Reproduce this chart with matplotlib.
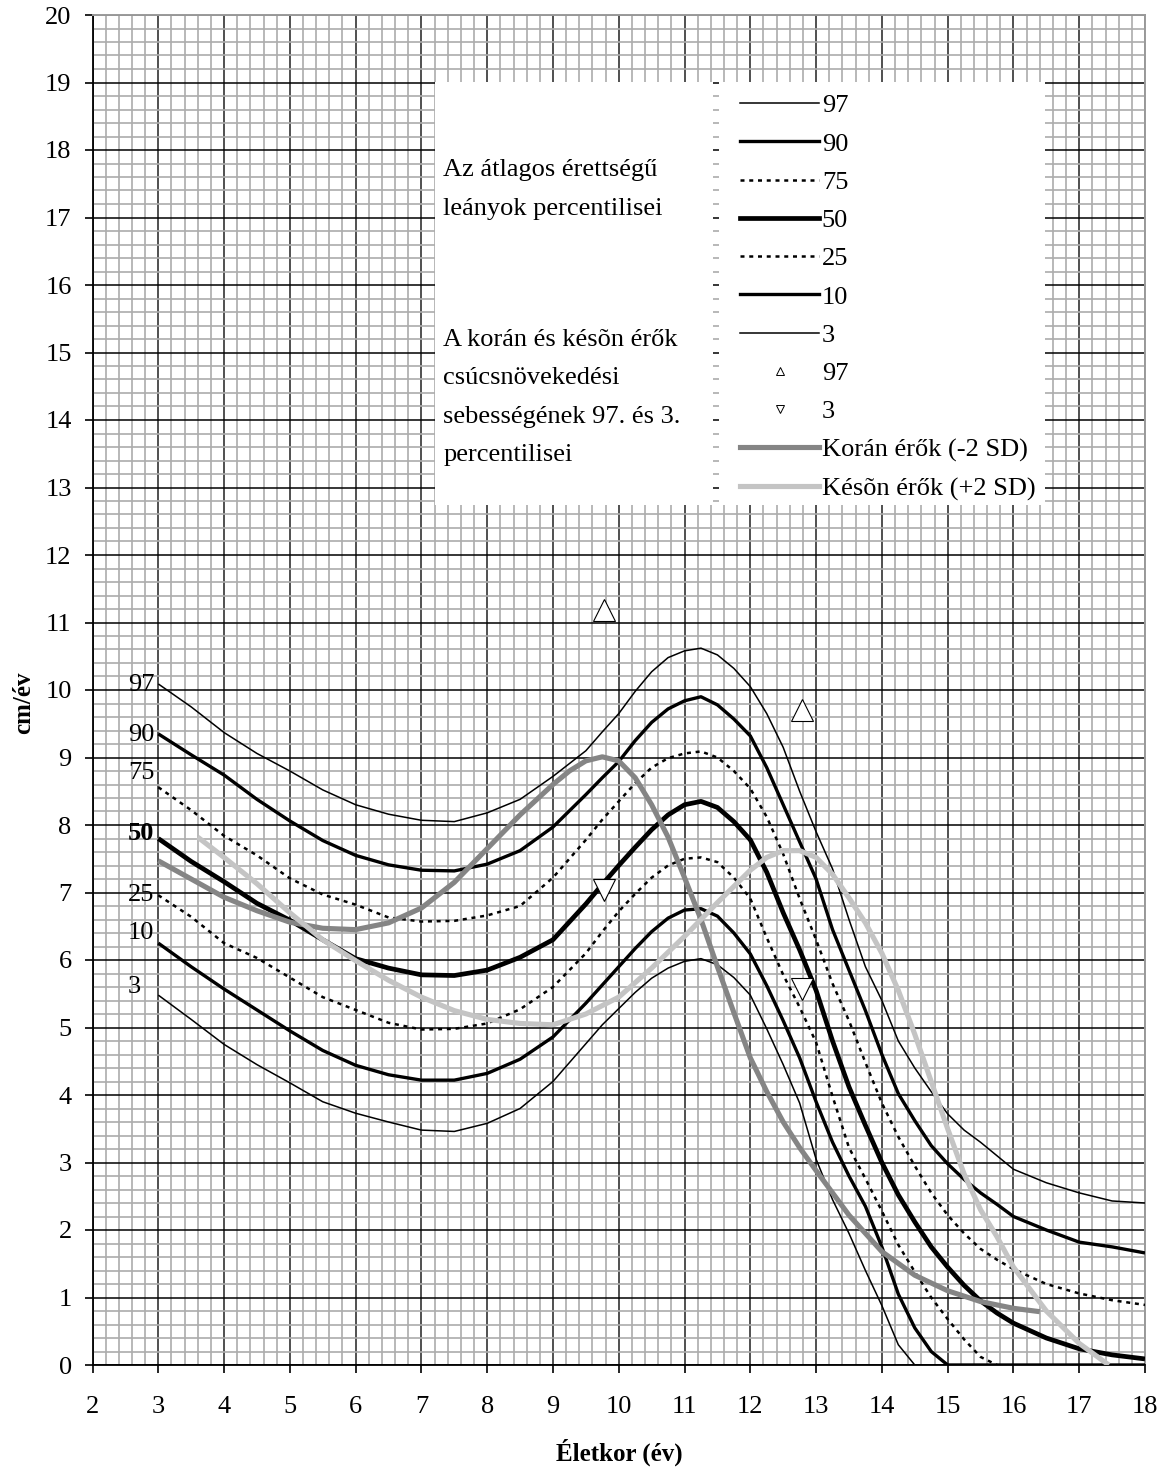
import matplotlib
matplotlib.use("Agg")
import matplotlib.pyplot as plt
from matplotlib.lines import Line2D
from matplotlib.patches import Rectangle
import numpy as np

plt.rcParams['font.family'] = ['Liberation Serif', 'DejaVu Serif']

# ---------------- data ----------------
AGES = [3, 3.5, 4, 4.5, 5, 5.5, 6, 6.5, 7, 7.5, 8, 8.5, 9, 9.5, 9.75, 10, 10.25, 10.5,
        10.75, 11, 11.25, 11.5, 11.75, 12, 12.25, 12.5, 12.75, 13, 13.25, 13.5, 13.75,
        14, 14.25, 14.5, 14.75, 15, 15.25, 15.5, 15.75, 16, 16.5, 17, 17.5, 18]

P97 = [10.09, 9.75, 9.37, 9.06, 8.80, 8.52, 8.30, 8.16, 8.07, 8.05, 8.18, 8.38, 8.72, 9.10,
       9.38, 9.65, 9.98, 10.27, 10.48, 10.58, 10.62, 10.52, 10.32, 10.05, 9.65, 9.15, 8.50,
       7.90, 7.35, 6.60, 5.90, 5.40, 4.80, 4.40, 4.05, 3.72, 3.48, 3.30, 3.10, 2.90, 2.70,
       2.55, 2.43, 2.40]
P90 = [9.35, 9.04, 8.74, 8.38, 8.06, 7.77, 7.55, 7.41, 7.33, 7.32, 7.42, 7.62, 7.97, 8.45,
       8.70, 8.94, 9.25, 9.52, 9.72, 9.84, 9.90, 9.78, 9.57, 9.32, 8.85, 8.30, 7.75, 7.20,
       6.45, 5.85, 5.25, 4.60, 4.02, 3.62, 3.25, 2.98, 2.75, 2.55, 2.38, 2.20, 2.00, 1.82,
       1.75, 1.66]
P75 = [8.56, 8.22, 7.84, 7.55, 7.21, 6.97, 6.82, 6.63, 6.57, 6.58, 6.66, 6.80, 7.22, 7.78,
       8.08, 8.35, 8.62, 8.85, 8.99, 9.06, 9.09, 9.00, 8.80, 8.54, 8.12, 7.57, 6.91, 6.30,
       5.65, 5.10, 4.48, 3.88, 3.38, 2.95, 2.55, 2.22, 1.95, 1.72, 1.56, 1.42, 1.20, 1.06,
       0.96, 0.89]
P50 = [7.80, 7.46, 7.16, 6.84, 6.59, 6.30, 6.02, 5.88, 5.78, 5.77, 5.85, 6.04, 6.30, 6.83,
       7.12, 7.40, 7.67, 7.93, 8.15, 8.30, 8.35, 8.26, 8.05, 7.78, 7.30, 6.70, 6.15, 5.55,
       4.80, 4.12, 3.55, 3.00, 2.52, 2.12, 1.75, 1.45, 1.18, 0.95, 0.77, 0.62, 0.40, 0.24,
       0.15, 0.09]
P25 = [6.96, 6.64, 6.25, 6.03, 5.74, 5.45, 5.26, 5.07, 4.97, 4.98, 5.06, 5.27, 5.60, 6.10,
       6.42, 6.72, 6.98, 7.22, 7.40, 7.50, 7.52, 7.45, 7.22, 6.91, 6.33, 5.78, 5.30, 4.78,
       3.98, 3.22, 2.76, 2.28, 1.78, 1.38, 1.00, 0.68, 0.38, 0.12, 0.0, np.nan, np.nan,
       np.nan, np.nan, np.nan]
P10 = [6.25, 5.90, 5.57, 5.26, 4.95, 4.66, 4.44, 4.30, 4.22, 4.22, 4.32, 4.53, 4.86, 5.36,
       5.63, 5.90, 6.17, 6.42, 6.62, 6.74, 6.76, 6.65, 6.40, 6.09, 5.62, 5.10, 4.55, 3.90,
       3.30, 2.80, 2.35, 1.75, 1.05, 0.55, 0.20, 0.0, 0.0, 0.0, 0.0, 0.0, 0.0, 0.0, 0.0, 0.0]
P3 = [5.48, 5.12, 4.75, 4.45, 4.18, 3.90, 3.73, 3.60, 3.48, 3.46, 3.58, 3.80, 4.20, 4.76,
      5.04, 5.28, 5.52, 5.73, 5.88, 5.98, 6.02, 5.93, 5.74, 5.48, 4.98, 4.45, 3.88, 3.05,
      2.45, 1.95, 1.40, 0.88, 0.30, 0.0, 0.0, 0.0, 0.0, 0.0, 0.0, 0.0, 0.0, 0.0, 0.0, 0.0]

KORAN_AGE = [3, 3.5, 4, 4.5, 5, 5.5, 6, 6.5, 7, 7.5, 8, 8.5, 9, 9.25, 9.5, 9.75, 10, 10.25,
             10.5, 10.75, 11, 11.25, 11.5, 11.75, 12, 12.25, 12.5, 12.75, 13, 13.5, 14,
             14.5, 15, 15.5, 16, 16.4]
KORAN = [7.47, 7.20, 6.93, 6.73, 6.56, 6.47, 6.45, 6.55, 6.77, 7.15, 7.65, 8.15, 8.60, 8.80,
         8.95, 9.01, 8.95, 8.70, 8.30, 7.82, 7.22, 6.60, 5.90, 5.22, 4.55, 4.05, 3.60,
         3.22, 2.88, 2.22, 1.68, 1.33, 1.10, 0.94, 0.84, 0.79]

KESON_AGE = [3.6, 4, 4.5, 5, 5.5, 6, 6.5, 7, 7.5, 8, 8.5, 9, 9.5, 10, 10.5, 11, 11.5, 12,
             12.25, 12.5, 12.75, 13, 13.25, 13.5, 13.75, 14, 14.25, 14.5, 14.75, 15, 15.25,
             15.5, 15.75, 16, 16.5, 17, 17.45]
KESON = [7.82, 7.52, 7.13, 6.70, 6.30, 5.99, 5.70, 5.45, 5.25, 5.12, 5.06, 5.04, 5.20, 5.45,
         5.88, 6.35, 6.85, 7.33, 7.52, 7.62, 7.62, 7.52, 7.27, 6.92, 6.55, 6.10, 5.55,
         4.90, 4.20, 3.50, 2.83, 2.30, 1.90, 1.45, 0.80, 0.32, 0.0]

PEAK97_AGE = [9.78, 12.78]
PEAK97_VAL = [11.18, 9.70]
PEAK3_AGE = [9.78, 12.78]
PEAK3_VAL = [7.03, 5.57]

CURVE_LABELS = ["97", "90", "75", "50", "25", "10", "3"]
CURVE_LABEL_Y = [10.07, 9.33, 8.77, 7.87, 6.96, 6.40, 5.60]

# ---------------- figure ----------------
fig = plt.figure(figsize=(11.65, 14.68), dpi=100)
ax = fig.add_axes([92.5 / 1165, 1 - 1365 / 1468, (1145 - 92.5) / 1165, 1350 / 1468])
ax.set_xlim(2, 18)
ax.set_ylim(0, 20)
ax.set_xticks(range(2, 19))
ax.set_yticks(range(0, 21))
ax.set_xticks(np.arange(2, 18.01, 0.2), minor=True)
ax.set_yticks(np.arange(0, 20.01, 0.2), minor=True)
ax.set_axisbelow(True)
ax.grid(which='minor', color='#acacac', lw=1.2)
ax.grid(which='major', axis='x', color='#505050', lw=1.4)
ax.grid(which='major', axis='y', color='black', lw=1.1)
ax.tick_params(which='minor', length=0)
ax.tick_params(which='major', direction='out', length=6, width=1.2, labelsize=19)
ax.tick_params(axis='y', pad=9)
ax.tick_params(axis='x', pad=16)
for s in ['left', 'bottom']:
    ax.spines[s].set_color('black')
    ax.spines[s].set_linewidth(1.3)
for s in ['top', 'right']:
    ax.spines[s].set_color('#9a9a9a')
    ax.spines[s].set_linewidth(1.4)

dot = (0, (1.6, 1.9))
styles = {
    "97": dict(color='black', lw=1.1, ls='-'),
    "90": dict(color='black', lw=2.4, ls='-'),
    "75": dict(color='black', lw=1.8, ls=dot),
    "50": dict(color='black', lw=3.4, ls='-'),
    "25": dict(color='black', lw=1.8, ls=dot),
    "10": dict(color='black', lw=2.4, ls='-'),
    "3": dict(color='black', lw=1.1, ls='-'),
}
series = [P97, P90, P75, P50, P25, P10, P3]

# white boxes (legend area)
BOX_Y0, BOX_Y1 = 12.74, 19.0
ax.add_patch(Rectangle((7.2, BOX_Y0), 11.43 - 7.2, BOX_Y1 - BOX_Y0, facecolor='white',
                       edgecolor='none', zorder=1.5))
ax.add_patch(Rectangle((11.52, BOX_Y0), 16.48 - 11.52, BOX_Y1 - BOX_Y0, facecolor='white',
                       edgecolor='none', zorder=1.5))

handles = []
for lab, vals in zip(CURVE_LABELS, series):
    st = styles[lab]
    ax.plot(AGES, vals, color=st['color'], lw=st['lw'], ls=st['ls'], zorder=3,
            solid_joinstyle='round', solid_capstyle='butt')
    handles.append(Line2D([], [], color=st['color'], lw=st['lw'], ls=st['ls'], label=lab))

ax.plot(KORAN_AGE, KORAN, color='#858585', lw=3.7, zorder=4, solid_capstyle='butt',
        solid_joinstyle='round')
ax.plot(KESON_AGE, KESON, color='#c4c4c4', lw=3.7, zorder=4, solid_capstyle='butt',
        solid_joinstyle='round')

ax.plot(PEAK97_AGE, PEAK97_VAL, ls='none', marker='^', ms=16.5, mfc='white', mec='black',
        mew=0.8, zorder=5)
ax.plot(PEAK3_AGE, PEAK3_VAL, ls='none', marker='v', ms=16.5, mfc='white', mec='black',
        mew=0.8, zorder=5)

handles.append(Line2D([], [], ls='none', marker='^', ms=6, mfc='white', mec='black',
                      mew=0.7, label='97'))
handles.append(Line2D([], [], ls='none', marker='v', ms=6, mfc='white', mec='black',
                      mew=0.7, label='3'))
handles.append(Line2D([], [], color='#858585', lw=3.7, label='Korán érők (-2 SD)'))
handles.append(Line2D([], [], color='#c4c4c4', lw=3.7, label='Késõn érők (+2 SD)'))

leg = ax.legend(handles=handles, loc='upper left', bbox_to_anchor=((740 - 92.5) / 1052.5, 0.9415),
                frameon=False, fontsize=19, handlelength=3.0, handletextpad=0.1,
                labelspacing=0.56, borderpad=0, borderaxespad=0)
leg.set_zorder(6)

# left descriptive text
for yv, t in [(17.70, "Az átlagos érettségű"), (17.13, "leányok percentilisei"),
              (15.19, "A korán és késõn érők"), (14.62, "csúcsnövekedési"),
              (14.05, "sebességének 97. és 3."), (13.48, "percentilisei")]:
    ax.text(7.33, yv, t, fontsize=19, ha='left', va='center', zorder=6)

# curve labels at left
for lab, yv in zip(CURVE_LABELS, CURVE_LABEL_Y):
    ax.text(2.54, yv, lab, fontsize=19, ha='left', va='center', zorder=6,
            fontweight='bold' if lab == "50" else 'normal')

fig.text(619 / 1165, 1 - 1452 / 1468, "Életkor (év)", fontsize=18, fontweight='bold',
         ha='center', va='center')
fig.text(24 / 1165, 1 - 703 / 1468, "cm/év", fontsize=18, fontweight='bold',
         ha='center', va='center', rotation=90)

fig.savefig("out.png", dpi=100)
